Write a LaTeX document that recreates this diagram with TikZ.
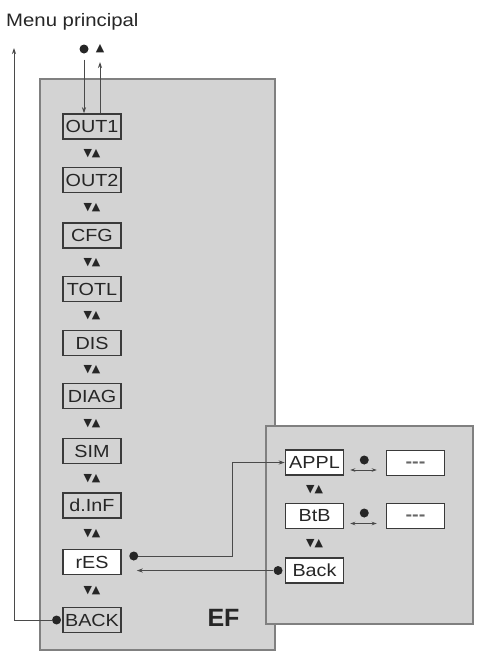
\documentclass[tikz,border=0pt]{standalone}
\usepackage{fontspec}
\setmainfont{Liberation Sans}[FakeStretch=1.13]
\newfontfamily\nomefont{Liberation Sans}
\newfontfamily\simboli{DejaVu Sans}
\usepackage{tikz}
\usetikzlibrary{shapes,positioning,calc}
\usetikzlibrary{arrows.meta}
\definecolor{grigiopannello}{HTML}{D3D3D3}
\definecolor{bordopannello}{HTML}{808080}
\definecolor{bordovoce}{HTML}{3A3A3A}
\definecolor{testo}{HTML}{262626}
\definecolor{linea}{HTML}{4A4A4A}
\tikzstyle{pannello} = [rectangle, draw=bordopannello, line width=1.5pt, fill=grigiopannello, inner sep=0pt]
\tikzstyle{voce} = [rectangle, minimum width=58pt, minimum height=25pt, inner sep=0pt, text centered, draw=bordovoce, line width=1.5pt, fill=grigiopannello, text=testo, font=\fontsize{17.5}{17.5}\selectfont]
\tikzstyle{voceattiva} = [voce, fill=white]
\tikzstyle{valore} = [voce, fill=white, text=black!60, text height=9pt, text depth=0pt]
\tikzstyle{tasti} = [inner sep=0pt, text=testo, font=\simboli\fontsize{11}{11}\selectfont]
\tikzstyle{punto} = [circle, fill=testo, minimum size=9pt, inner sep=0pt]
\tikzstyle{freccia} = [draw=linea, line width=0.8pt, -{Stealth[length=6pt,width=4pt]}]
\tikzstyle{doppia} = [draw=linea, line width=0.8pt, {Stealth[length=5pt,width=3.5pt]}-{Stealth[length=5pt,width=3.5pt]}]
\begin{document}
\begin{tikzpicture}[x=1pt,y=-1pt]
\useasboundingbox (0,0) rectangle (479,656);
% pannelli
\node (ef) at (157.5,364.5) [pannello, minimum width=235pt, minimum height=571pt] {};
\node (efnome) at (223.5,618) [text=testo, font=\nomefont\bfseries\fontsize{25}{25}\selectfont] {EF};
\node (sub) at (369.5,525) [pannello, minimum width=207pt, minimum height=198pt] {};
\node (menu) at (6,26.5) [anchor=base west, inner sep=0pt, text=testo, font=\fontsize{18}{18}\selectfont] {Menu principal};
% menu EF
\node (out1) at (92,126.5) [voce] {OUT1};
\node (out2) at (92,180) [voce] {OUT2};
\node (cfg) at (92,235.5) [voce] {CFG};
\node (totl) at (92,289) [voce] {TOTL};
\node (dis) at (92,343) [voce] {DIS};
\node (diag) at (92,396) [voce] {DIAG};
\node (sim) at (92,451) [voce] {SIM};
\node (dinf) at (92,505.5) [voce] {d.InF};
\node (res) at (92,562) [voceattiva] {rES};
\node (back) at (92,620) [voce] {BACK};
\node (t1) at ($(out1)!0.5!(out2)$) [tasti] {▼▲};
\node (t2) at ($(out2)!0.5!(cfg)$) [tasti] {▼▲};
\node (t3) at ($(cfg)!0.5!(totl)$) [tasti] {▼▲};
\node (t4) at ($(totl)!0.5!(dis)$) [tasti] {▼▲};
\node (t5) at ($(dis)!0.5!(diag)$) [tasti] {▼▲};
\node (t6) at ($(diag)!0.5!(sim)$) [tasti] {▼▲};
\node (t7) at ($(sim)!0.5!(dinf)$) [tasti] {▼▲};
\node (t8) at ($(dinf)!0.5!(res)$) [tasti] {▼▲};
\node (t9) at ($(res)!0.5!(back)$) [tasti] {▼▲};
% sottomenu rES
\node (appl) at (314.5,462.5) [voceattiva] {APPL};
\node (btb) at (314.5,516) [voceattiva] {BtB};
\node (bk) at (314.5,570.5) [voceattiva] {Back};
\node (v1) at (415.5,463) [valore] {\bfseries -{}-{}-};
\node (v2) at (415.5,516) [valore] {\bfseries -{}-{}-};
\node (t10) at ($(appl)!0.5!(btb)$) [tasti] {▼▲};
\node (t11) at ($(btb)!0.5!(bk)$) [tasti] {▼▲};
% tasti e punti
\node (ptop) at (84,49) [punto] {};
\node (su) at (100,49) [tasti] {▲};
\node (pback) [punto, left=1pt of back] {};
\node (pres) at ([xshift=12pt,yshift=6pt]res.east) [punto] {};
\node (pbk) [punto, left=2pt of bk] {};
\node (pa) at ([xshift=20pt,yshift=2.5pt]appl.east) [punto] {};
\node (pb) at ([xshift=20pt,yshift=3pt]btb.east) [punto] {};
% collegamenti
\coordinate (menuin) at (14,48);
\coordinate (kx) at (232,0);
\coordinate (resin) at ([xshift=15pt]res.east);
\draw[freccia] ([yshift=-6pt]ptop.south) -- (ptop.south |- out1.north);
\draw[freccia] (su.south |- out1.north) -- ([yshift=-13pt]su.center);
\draw[freccia] (pback.west) -| (menuin);
\draw[freccia] (pres.east) -- (pres.east -| kx) |- (appl.west);
\draw[freccia] (pbk.west) -- (pbk.west -| resin);
\draw[doppia] ([xshift=6pt,yshift=-7.5pt]appl.east) -- ([xshift=-9pt,yshift=-7pt]v1.west);
\draw[doppia] ([xshift=6pt,yshift=-7.5pt]btb.east) -- ([xshift=-9pt,yshift=-7.5pt]v2.west);
\end{tikzpicture}
\end{document}
